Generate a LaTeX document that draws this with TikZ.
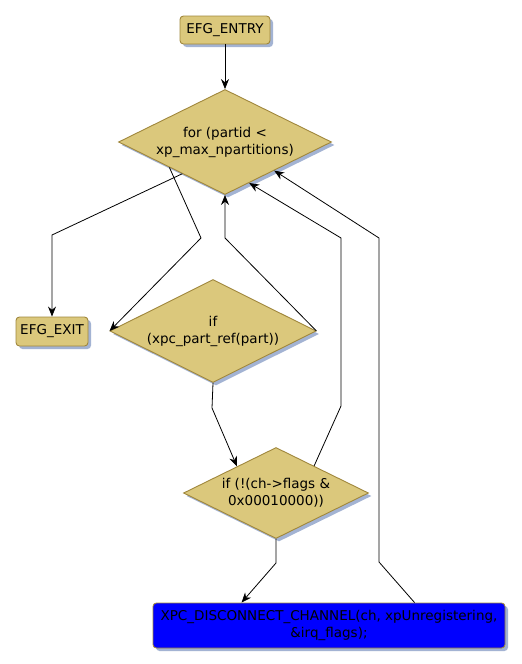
\documentclass[tikz,border=0pt]{standalone}
\usepackage{fontspec}
\setmainfont{DejaVu Sans}
\usetikzlibrary{shapes.geometric,arrows.meta,calc,shadows}
\definecolor{goldfill}{RGB}{219,200,124}
\definecolor{goldline}{RGB}{160,135,60}
\definecolor{shadowc}{RGB}{163,179,211}
\definecolor{bluefill}{RGB}{0,0,255}
\tikzset{
  base/.style={draw=goldline, line width=0.9pt, fill=goldfill, inner sep=0pt, align=center,
    font=\fontsize{13.5}{17}\selectfont,
    drop shadow={shadow xshift=3pt, shadow yshift=-3pt, fill=shadowc, opacity=1}},
  termbox/.style={base, rectangle, rounded corners=3.5pt},
  decision/.style={base, diamond, aspect=2},
  actionbox/.style={base, rectangle, rounded corners=3.5pt, fill=bluefill},
  flow/.style={draw=black, line width=0.8pt, -{Stealth[length=10pt,width=8pt]}}
}
\begin{document}
\begin{tikzpicture}[x=1pt,y=-1pt]
\useasboundingbox (0,0) rectangle (522,664);
\node[termbox, minimum width=90pt, minimum height=28pt] (entry) at (225,30) {EFG\_ENTRY};
\node[decision, minimum width=213pt, minimum height=105pt] (for) at (225,142) {for (partid <\\xp\_max\_npartitions)};
\node[termbox, minimum width=72pt, minimum height=29pt] (exit) at (52,331.5) {EFG\_EXIT};
\node[decision, minimum width=206pt, minimum height=103pt] (ifx) at (213,331) {if\\(xpc\_part\_ref(part))};
\node[decision, minimum width=185pt, minimum height=91pt] (ifc) at (276,493) {if (!(ch->flags \&\\0x00010000))};
\node[actionbox, minimum width=352pt, minimum height=45pt] (disc) at (329,625.5) {XPC\_DISCONNECT\_CHANNEL(ch, xpUnregistering,\\\&irq\_flags);};

\draw[flow] (entry.south) -- (for.north);
\draw[flow] ($(for.west)!0.6!(for.south)$) -- (52,235) -- (exit.north);
\draw[flow] ($(for.west)!0.48!(for.south)$) -- (201,238) -- (ifx.west);
\draw[flow] (ifx.east) -- (225,238) -- (for.south);
\draw[flow] (ifx.south) -- (212,408) -- ($(ifc.west)!0.58!(ifc.north)$);
\draw[flow] ($(ifc.north)!0.41!(ifc.east)$) -- (341,406) -- (341,238) -- ($(for.south)!0.226!(for.east)$);
\draw[flow] (ifc.south) -- (276,563) -- ($(disc.north west)+(89,0)$);
\draw[flow] ($(disc.north west)+(262,0)$) -- (379,562) -- (379,238) -- ($(for.south)!0.46!(for.east)$);
\end{tikzpicture}
\end{document}
